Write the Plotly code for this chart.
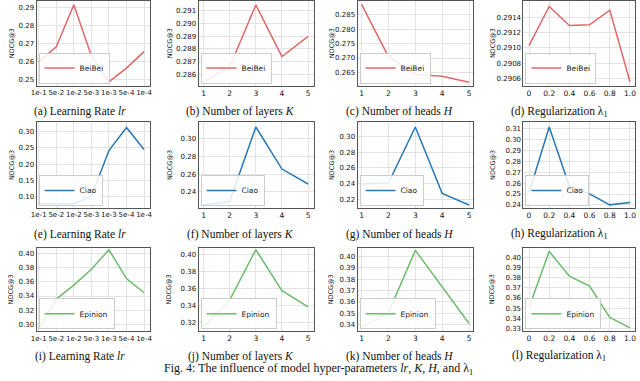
import plotly.graph_objects as go

W, H = 640, 381

lr_labels = ["1e-1", "5e-2", "1e-2", "5e-3", "1e-3", "5e-4", "1e-4"]
layers = [1, 2, 3, 4, 5]
heads = [1, 2, 3, 4, 5]
lambdas = [0, 0.2, 0.4, 0.6, 0.8, 1.0]

beibei_lr = [0.2598, 0.2682, 0.2915, 0.2631, 0.2487, 0.2564, 0.2655]
beibei_k = [0.2854, 0.2866, 0.29146, 0.28739, 0.28899]
beibei_h = [0.2886, 0.27045, 0.26432, 0.26364, 0.2616]
beibei_lam = [0.29103, 0.29154, 0.29129, 0.2913, 0.29149, 0.29056]

ciao_lr = [0.078, 0.079, 0.078, 0.101, 0.242, 0.313, 0.245]
ciao_k = [0.2256, 0.2293, 0.3126, 0.2656, 0.2489]
ciao_h = [0.2394, 0.2406, 0.3118, 0.2276, 0.2128]
ciao_lam = [0.251, 0.3118, 0.2571, 0.2501, 0.2400, 0.2421]

epinion_lr = [0.293, 0.3357, 0.3554, 0.378, 0.4056, 0.3648, 0.3446]
epinion_k = [0.3146, 0.3464, 0.4054, 0.3575, 0.3384]
epinion_h = [0.3377, 0.3506, 0.4052, 0.373, 0.3411]
epinion_lam = [0.3507, 0.4058, 0.3815, 0.3718, 0.341, 0.3307]

captions = [
    "(a) Learning Rate <i>lr</i>", "(b) Number of layers <i>K</i>",
    "(c) Number of heads <i>H</i>", "(d) Regularization λ<sub>1</sub>",
    "(e) Learning Rate <i>lr</i>", "(f) Number of layers <i>K</i>",
    "(g) Number of heads <i>H</i>", "(h) Regularization λ<sub>1</sub>",
    "(i) Learning Rate <i>lr</i>", "(j) Number of layers <i>K</i>",
    "(k) Number of heads <i>H</i>", "(l) Regularization λ<sub>1</sub>",
]

rows = [
    ("BeiBei", "#e26868", [beibei_lr, beibei_k, beibei_h, beibei_lam],
     [(0.2467, 0.2936, 0.01, ".2f"), (0.28512, 0.29177, 0.001, ".3f"),
      (0.26045, 0.28977, 0.005, ".3f"), (0.29051, 0.29161, 0.0002, ".4f")]),
    ("Ciao", "#2878b5", [ciao_lr, ciao_k, ciao_h, ciao_lam],
     [(0.0653, 0.3286, 0.05, ".2f"), (0.2222, 0.3178, 0.02, ".2f"),
      (0.2091, 0.3177, 0.02, ".2f"), (0.2372, 0.3161, 0.01, ".2f")]),
    ("Epinion", "#6bbc6b", [epinion_lr, epinion_k, epinion_h, epinion_lam],
     [(0.2901, 0.4085, 0.02, ".2f"), (0.31, 0.4077, 0.02, ".2f"),
      (0.3343, 0.4075, 0.01, ".2f"), (0.3274, 0.4094, 0.01, ".2f")]),
]

xs = [lr_labels, layers, heads, lambdas]
x_ranges = [[-0.12, 6.35], [0.81, 5.23], [0.85, 5.15], [-0.055, 1.05]]

col_px = [(31, 146), (195, 312), (356, 473), (524, 637)]
row_px = [(1, 86), (123, 209), (249, 333)]
cap_x = [74.5, 237.5, 398.8, 559.5]
cap_y = [112.5, 235.5, 358]
ylab_x = [6, 166, 330, 493]

def px(x):
    return x / W

def py(y):
    return 1 - y / H

fig = go.Figure()
x_font = dict(family="DejaVu Sans", size=7.5, color="#111")
y_font = dict(family="DejaVu Sans", size=7, color="#111")
layout = {}
annotations = []
n = 0
for r, (name, color, series, yspecs) in enumerate(rows):
    for c in range(4):
        n += 1
        suffix = "" if n == 1 else str(n)
        leg = "legend" if n == 1 else "legend" + str(n)
        fig.add_trace(go.Scatter(
            x=xs[c], y=series[c], mode="lines", name=name,
            line=dict(color=color, width=1.5),
            xaxis="x" + suffix, yaxis="y" + suffix, legend=leg,
        ))
        x0, x1 = col_px[c]
        y0, y1 = row_px[r]
        ymin, ymax, dt, fmt = yspecs[c]
        xa = dict(
            domain=[px(x0), px(x1)], anchor="y" + suffix,
            range=x_ranges[c], showgrid=True, gridcolor="#e3e3e3",
            showline=True, mirror=True, linecolor="#555", linewidth=1,
            ticks="", tickfont=x_font, zeroline=False, tickangle=0,
        )
        if c == 0:
            xa["type"] = "category"
            xa["tickfont"] = dict(family="DejaVu Sans", size=7, color="#111")
        elif c == 3:
            xa.update(tickvals=lambdas, ticktext=["0", "0.2", "0.4", "0.6", "0.8", "1.0"])
        else:
            xa.update(dtick=1)
        ya = dict(
            domain=[py(y1), py(y0)], anchor="x" + suffix,
            range=[ymin, ymax], dtick=dt, tickformat=fmt,
            showgrid=True, gridcolor="#e3e3e3",
            showline=True, mirror=True, linecolor="#555", linewidth=1,
            ticks="", tickfont=y_font, zeroline=False,
        )
        layout["xaxis" + suffix] = xa
        layout["yaxis" + suffix] = ya
        layout[leg] = dict(
            x=px(x0 + 2), y=py(y1 - 2), xanchor="left", yanchor="bottom",
            bgcolor="rgba(255,255,255,0.85)", bordercolor="#cccccc", borderwidth=1,
            font=dict(family="DejaVu Sans", size=7.5, color="#222"),
            itemwidth=30, tracegroupgap=0,
        )
        annotations.append(dict(
            text=captions[n - 1], x=px(cap_x[c]), y=py(cap_y[r]),
            xref="paper", yref="paper", showarrow=False,
            xanchor="center", yanchor="middle",
            font=dict(family="Liberation Serif", size=11.5, color="#111"),
        ))
        annotations.append(dict(
            text="NDCG@3", x=px(ylab_x[c]), y=py((y0 + y1) / 2),
            xref="paper", yref="paper", showarrow=False, textangle=-90,
            xanchor="center", yanchor="middle",
            font=dict(family="DejaVu Sans", size=6.5, color="#111"),
        ))

annotations.append(dict(
    text="Fig. 4: The influence of model hyper-parameters <i>lr</i>, <i>K</i>, <i>H</i>, and λ<sub>1</sub>",
    x=px(316), y=py(381), xref="paper", yref="paper", showarrow=False,
    xanchor="center", yanchor="bottom",
    font=dict(family="Liberation Serif", size=12, color="#111"),
))

fig.update_layout(
    width=W, height=H, margin=dict(l=0, r=0, t=0, b=0),
    paper_bgcolor="white", plot_bgcolor="white",
    showlegend=True, annotations=annotations, **layout,
)

# drop the default page margin so the figure sits at the window's corner
fig.write_html("out.html", config={"displayModeBar": False},
               post_script="document.body.style.margin='0px';")
